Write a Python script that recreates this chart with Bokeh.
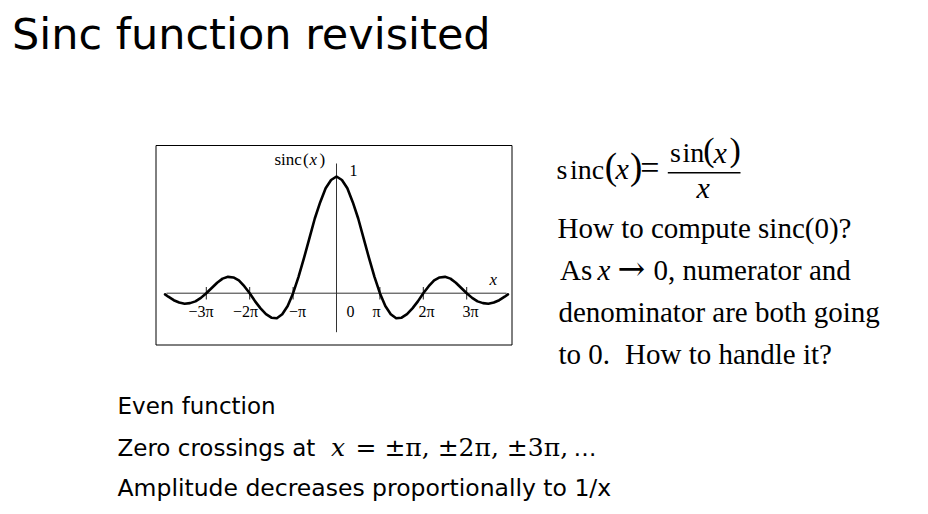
from bokeh.plotting import figure
from bokeh.models import Range1d
from bokeh.core.properties import value
from bokeh.embed import file_html
from bokeh.resources import INLINE

# ---- data (x in multiples of pi) ----
x_pi = [-3.95, -3.875, -3.75, -3.625, -3.5, -3.375, -3.25, -3.125, -3.0,
        -2.875, -2.75, -2.625, -2.5, -2.375, -2.25, -2.125, -2.0,
        -1.875, -1.75, -1.625, -1.5, -1.375, -1.25, -1.125, -1.0,
        -0.875, -0.75, -0.625, -0.5, -0.375, -0.25, -0.125, 0.0,
        0.125, 0.25, 0.375, 0.5, 0.625, 0.75, 0.875, 1.0,
        1.125, 1.25, 1.375, 1.5, 1.625, 1.75, 1.875, 2.0,
        2.125, 2.25, 2.375, 2.5, 2.625, 2.75, 2.875, 3.0,
        3.125, 3.25, 3.375, 3.5, 3.625, 3.75, 3.875, 3.95]
sinc_y = [-0.01, -0.03, -0.06, -0.08, -0.09, -0.085, -0.07, -0.04, 0.0,
          0.045, 0.09, 0.125, 0.14, 0.135, 0.11, 0.06, 0.0,
          -0.07, -0.13, -0.18, -0.21, -0.215, -0.18, -0.11, 0.0,
          0.14, 0.30, 0.47, 0.64, 0.78, 0.90, 0.97, 1.0,
          0.97, 0.90, 0.78, 0.64, 0.47, 0.30, 0.14, 0.0,
          -0.11, -0.18, -0.215, -0.21, -0.18, -0.13, -0.07, 0.0,
          0.06, 0.11, 0.135, 0.14, 0.125, 0.09, 0.045, 0.0,
          -0.04, -0.07, -0.085, -0.09, -0.08, -0.06, -0.03, -0.01]
tick_pos = [-3, -2, -1, 1, 2, 3]
tick_labels = ["\u22123\u03c0", "\u22122\u03c0", "\u2212\u03c0", "\u03c0", "2\u03c0", "3\u03c0"]

# ---- layout (picture pixels -> data units) ----
W, H = 920, 506
PX0, SX = 336.0, 43.4
PY0, SY = 292.7, 116.7
K = 0.39  # baseline correction, fraction of font size


def X(px):
    return (px - PX0) / SX


def Y(py):
    return (PY0 - py) / SY


p = figure(width=W, height=H,
           x_range=Range1d(X(0), X(W)), y_range=Range1d(Y(H), Y(0)),
           output_backend="svg", toolbar_location=None,
           x_axis_location=None, y_axis_location=None, min_border=0,
           outline_line_color=None, background_fill_color="white",
           border_fill_color="white")
p.grid.visible = False

SERIF = "Liberation Serif"


def txt(px, py, s, size, font, style="normal", align="left"):
    p.text(x=[X(px)], y=[Y(py - K * size)], text=[s], text_font=value(font),
           text_font_size=f"{size}px", text_font_style=style, text_align=align,
           text_baseline="alphabetic", text_color="black")


# title
txt(11.5, 50, "Sinc function revisited", 43, "DejaVu Sans")

# inner plot frame
p.quad(left=[X(155.5)], right=[X(511.5)], top=[Y(145)], bottom=[Y(344.5)],
       fill_color=None, line_color="black", line_width=1)

# axes lines
p.segment(x0=[X(166), 0], y0=[0, Y(331.7)], x1=[X(506), 0], y1=[0, Y(163)],
          line_color="#333333", line_width=1)
# tick marks
p.segment(x0=tick_pos, y0=[Y(299)] * len(tick_pos), x1=tick_pos,
          y1=[Y(286.5)] * len(tick_pos), line_color="#222222", line_width=1)

# curve
p.line(x_pi, sinc_y, line_color="black", line_width=2.6,
       line_join="round", line_cap="round")

# tick labels
TL = 16
label_centers = [200.5, 245, 297, 376, 426, 470]
p.text(x=[X(c) for c in label_centers], y=[Y(317.3 - K * TL)] * len(tick_labels),
       text=tick_labels, text_font=value(SERIF), text_font_size=f"{TL}px",
       text_align="center", text_baseline="alphabetic", text_color="black")
txt(350, 317.3, "0", TL, SERIF, align="center")
txt(349, 176.7, "1", TL, SERIF)
txt(489, 285.7, "x", 17, SERIF, style="italic")
txt(274, 166, "sinc", 17, SERIF)
txt(302.5, 166, "(", 17, SERIF)
txt(309, 166, "x", 17, SERIF, style="italic")
txt(319, 166, ")", 17, SERIF)

# formula  sinc(x) = sin(x) / x
txt(556, 180, "s", 28, SERIF)
txt(569.5, 180, "inc", 28, SERIF)
txt(604.2, 180.2, "(", 37, SERIF)
txt(615, 180, "x", 30, SERIF, style="italic")
txt(629.5, 180.2, ")", 37, SERIF)
txt(639.7, 180, "=", 34, SERIF)
txt(669.5, 163.3, "s", 28, SERIF)
txt(682, 163.3, "in", 28, SERIF)
txt(702.7, 162.3, "(", 34, SERIF)
txt(713, 163.3, "x", 30, SERIF, style="italic")
txt(728.9, 162.3, ")", 34, SERIF)
p.segment(x0=[X(667.3)], y0=[Y(172.3)], x1=[X(740)], y1=[Y(172.3)],
          line_color="black", line_width=1.6)
txt(696, 198.3, "x", 30, SERIF, style="italic")

# right text
RS = 29
txt(557, 239, "How to compute sinc(0)?", RS, SERIF)
txt(559.5, 280.7, "As", RS, SERIF)
txt(597, 280.7, "x", RS, SERIF, style="italic")
txt(617, 280.7, "\u2192", 33, "DejaVu Serif")
txt(653, 280.7, "0, numerator and", RS, SERIF)
txt(558, 323.3, "denominator are both going", RS, SERIF)
txt(558, 365, "to 0.", RS, SERIF)
txt(624.5, 365, "How to handle it?", RS, SERIF)

# bottom text
SANS = "DejaVu Sans"
BS = 23
txt(117, 414.3, "Even function", BS, SANS)
txt(117, 456.7, "Zero crossings at", BS, SANS)
txt(330.5, 456.7, "x", 25, "DejaVu Serif", style="italic")
txt(355, 456.7, "= \u00b1\u03c0, \u00b12\u03c0, \u00b13\u03c0,", 25, "DejaVu Serif")
txt(573, 456.7, "\u2026", BS, SANS)
txt(117, 496.7, "Amplitude decreases proportionally to 1/x", 23.5, SANS)

open("out.html", "w").write(file_html(p, INLINE))
